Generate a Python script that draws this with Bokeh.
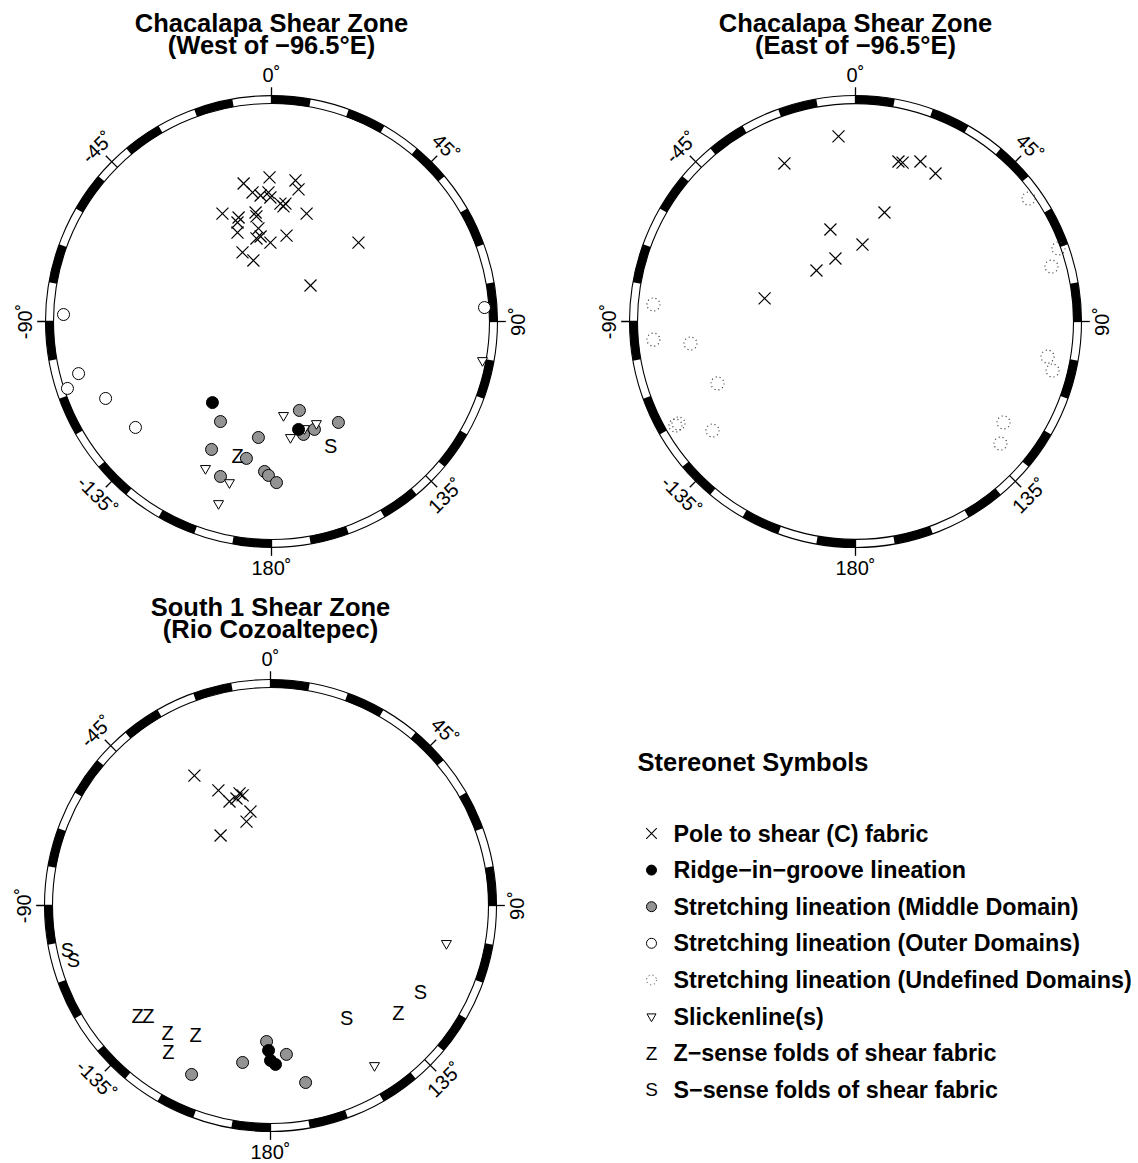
import numpy as np
from bokeh.plotting import figure
from bokeh.models import Range1d
from bokeh.layouts import column, row
from bokeh.embed import file_html
from bokeh.resources import INLINE
from bokeh.core.properties import value

FONT = "Liberation Sans"

# ---------------- data (positions on the net, in units of the net radius: east, north) --------
# Chacalapa Shear Zone, West of -96.5E
west_pole_e = [-0.128, -0.009, 0.110, 0.124, -0.087, -0.050, -0.014, -0.005, 0.041, 0.064, 0.055,
               -0.225, -0.151, -0.156, -0.073, -0.069, 0.161, -0.156, -0.060, -0.050, -0.069, -0.005,
               0.069, -0.133, -0.083, 0.399, 0.179]
west_pole_n = [0.633, 0.661, 0.647, 0.606, 0.592, 0.578, 0.592, 0.569, 0.541, 0.541, 0.528,
               0.495, 0.477, 0.454, 0.500, 0.482, 0.495, 0.408, 0.427, 0.390, 0.381, 0.362,
               0.394, 0.317, 0.280, 0.362, 0.165]
west_ridge_e = [-0.271, 0.124]
west_ridge_n = [-0.372, -0.495]
west_mid_e = [-0.234, 0.128, 0.307, 0.197, 0.147, -0.060, -0.275, -0.115, -0.234, -0.032, -0.014, 0.023]
west_mid_n = [-0.459, -0.408, -0.463, -0.495, -0.518, -0.532, -0.587, -0.628, -0.711, -0.688, -0.706, -0.739]
west_outer_e = [-0.954, -0.885, -0.936, -0.761, -0.624, 0.977]
west_outer_n = [0.032, -0.239, -0.307, -0.353, -0.486, 0.064]
west_slick_e = [0.055, 0.206, 0.151, 0.087, -0.303, -0.193, -0.243, 0.968]
west_slick_n = [-0.431, -0.468, -0.491, -0.532, -0.674, -0.739, -0.835, -0.179]
west_z_e = [-0.156]
west_z_n = [-0.615]
west_s_e = [0.271]
west_s_n = [-0.569]

# Chacalapa Shear Zone, East of -96.5E
east_pole_e = [-0.078, -0.326, 0.197, 0.216, 0.298, 0.367, 0.133, -0.115, 0.032, -0.092, -0.179, -0.417]
east_pole_n = [0.849, 0.725, 0.734, 0.729, 0.734, 0.679, 0.500, 0.422, 0.353, 0.289, 0.234, 0.106]
east_undef_e = [0.794, 0.931, 0.899, -0.927, -0.927, -0.757, -0.633, -0.812, -0.826, -0.656,
                0.881, 0.904, 0.679, 0.665]
east_undef_n = [0.564, 0.335, 0.252, 0.078, -0.083, -0.101, -0.284, -0.468, -0.477, -0.500,
                -0.161, -0.225, -0.463, -0.560]

# South 1 Shear Zone (Rio Cozoaltepec)
south_pole_e = [-0.349, -0.239, -0.188, -0.142, -0.128, -0.156, -0.092, -0.110, -0.229]
south_pole_n = [0.596, 0.528, 0.477, 0.514, 0.505, 0.491, 0.431, 0.385, 0.321]
south_mid_e = [-0.362, -0.128, -0.018, 0.073, 0.161]
south_mid_n = [-0.775, -0.720, -0.624, -0.683, -0.812]
south_ridge_e = [-0.009, 0.000, 0.023]
south_ridge_n = [-0.665, -0.711, -0.729]
south_slick_e = [0.807, 0.477]
south_slick_n = [-0.174, -0.734]
south_z_e = [-0.610, -0.560, -0.472, -0.468, -0.344, 0.587]
south_z_n = [-0.505, -0.505, -0.587, -0.670, -0.596, -0.491]
south_s_e = [-0.931, -0.904, 0.688, 0.349]
south_s_n = [-0.206, -0.252, -0.399, -0.514]

tick_az = [0, 45, 90, 135, 180, -135, -90, -45]
tick_labels = ["0˚", "45˚", "90˚", "135˚", "180˚", "-135˚", "-90˚", "-45˚"]

legend_labels = ["Pole to shear (C) fabric", "Ridge−in−groove lineation",
                 "Stretching lineation (Middle Domain)", "Stretching lineation (Outer Domains)",
                 "Stretching lineation (Undefined Domains)", "Slickenline(s)",
                 "Z−sense folds of shear fabric", "S−sense folds of shear fabric"]

# ---------------- styling ----------------
R_PX = 218.0              # net radius in pixels
R_OUT = 226.0 / R_PX      # outer edge of frame ring
GRAY = "#939393"


def base_fig(w, h, cx, cy):
    s = R_PX
    p = figure(width=w, height=h, output_backend="svg", toolbar_location=None,
               x_range=Range1d(-cx / s, (w - cx) / s), y_range=Range1d(-(h - cy) / s, cy / s),
               x_axis_type=None, y_axis_type=None, min_border=0)
    p.grid.visible = False
    p.outline_line_color = None
    p.background_fill_color = "white"
    p.border_fill_color = "white"
    return p


def net(w, h, cx, cy, t1, t2):
    p = base_fig(w, h, cx, cy)
    seg = np.arange(0, 360, 10)
    blk = seg[(seg // 10) % 2 == 0]
    n = len(blk)
    p.annular_wedge(x=[0] * n, y=[0] * n, inner_radius=1.0, outer_radius=R_OUT,
                    start_angle=list(np.radians(90 - blk - 10)), end_angle=list(np.radians(90 - blk)),
                    fill_color="black", line_color=None)
    p.circle(x=[0, 0], y=[0, 0], radius=[1.0, R_OUT], fill_color=None,
             line_color="black", line_width=1.1)
    az = np.radians(np.array(tick_az, dtype=float))
    p.segment(x0=list(np.sin(az) * 1.0), y0=list(np.cos(az) * 1.0),
              x1=list(np.sin(az) * 1.075), y1=list(np.cos(az) * 1.075),
              line_color="black", line_width=1.3)
    rot = []
    for a in tick_az:
        r = -a
        if r <= -90:
            r += 180
        if r > 90:
            r -= 180
        rot.append(np.radians(r))
    p.text(x=list(np.sin(az) * 1.13), y=list(np.cos(az) * 1.13), text=tick_labels, angle=rot,
           text_align="center", text_baseline="middle", text_font=value(FONT),
           text_font_size="20px", text_color="black")
    p.text(x=[0, 0], y=[299 / R_PX, 277 / R_PX], text=[t1, t2], text_align="center",
           text_baseline="middle", text_font=value(FONT), text_font_style="bold",
           text_font_size="25.5px", text_color="black")
    return p


def poles(p, e, n, size=17):
    p.scatter(x=e, y=n, marker="x", size=size, line_color="black", line_width=1.2)


def dots(p, e, n, fill, size=12):
    p.scatter(x=e, y=n, marker="circle", size=size, fill_color=fill, line_color="black", line_width=1)


def slick(p, e, n, size=10):
    p.scatter(x=e, y=n, marker="inverted_triangle", size=size, fill_color="white",
              line_color="black", line_width=1)


def undef(p, e, n, size=13):
    p.scatter(x=e, y=n, marker="circle", size=size, fill_color=None, line_color="#333333",
              line_width=1.2, line_dash="1 3")


def letters(p, e, n, ch, size="20px"):
    p.text(x=e, y=n, text=[ch] * len(e), text_align="center", text_baseline="middle",
           text_font=value(FONT), text_font_size=size, text_color="black")


# layout geometry (pixels)
W1, W2 = 593, 545
H1, H2 = 593, 570

p1 = net(W1, H1, 271, 321, "Chacalapa Shear Zone", "(West of −96.5°E)")
poles(p1, west_pole_e, west_pole_n)
dots(p1, west_outer_e, west_outer_n, "white")
dots(p1, west_mid_e, west_mid_n, GRAY)
slick(p1, west_slick_e, west_slick_n)
dots(p1, west_ridge_e, west_ridge_n, "black")
letters(p1, west_z_e, west_z_n, "Z")
letters(p1, west_s_e, west_s_n, "S")

p2 = net(W2, H1, 262, 321, "Chacalapa Shear Zone", "(East of −96.5°E)")
poles(p2, east_pole_e, east_pole_n)
undef(p2, east_undef_e, east_undef_n)

p3 = net(W1, H2, 270, 312, "South 1 Shear Zone", "(Rio Cozoaltepec)")
poles(p3, south_pole_e, south_pole_n)
dots(p3, south_mid_e, south_mid_n, GRAY)
dots(p3, south_ridge_e, south_ridge_n, "black")
slick(p3, south_slick_e, south_slick_n)
letters(p3, south_z_e, south_z_n, "Z")
letters(p3, south_s_e, south_s_n, "S")

# legend panel (pixel coordinates, y downwards)
lg = figure(width=W2, height=H2, output_backend="svg", toolbar_location=None,
            x_range=Range1d(0, W2), y_range=Range1d(H2, 0),
            x_axis_type=None, y_axis_type=None, min_border=0)
lg.grid.visible = False
lg.outline_line_color = None
lg.text(x=[44], y=[168], text=["Stereonet Symbols"], text_baseline="middle",
        text_font=value(FONT), text_font_style="bold", text_font_size="25.5px", text_color="black")
ys = [240 + i * 36.6 for i in range(len(legend_labels))]
sx = 58
lg.scatter(x=[sx], y=[ys[0]], marker="x", size=15, line_color="black", line_width=1.1)
lg.scatter(x=[sx], y=[ys[1]], marker="circle", size=10, fill_color="black", line_color="black")
lg.scatter(x=[sx], y=[ys[2]], marker="circle", size=10, fill_color=GRAY, line_color="black")
lg.scatter(x=[sx], y=[ys[3]], marker="circle", size=10, fill_color="white", line_color="black")
lg.scatter(x=[sx], y=[ys[4]], marker="circle", size=10, fill_color=None, line_color="#333333",
           line_dash="1 3")
lg.scatter(x=[sx], y=[ys[5]], marker="inverted_triangle", size=9, fill_color="white", line_color="black")
lg.text(x=[sx, sx], y=[ys[6], ys[7]], text=["Z", "S"], text_align="center", text_baseline="middle",
        text_font=value(FONT), text_font_size="19px", text_color="black")
lg.text(x=[80] * len(legend_labels), y=ys, text=legend_labels,
        text_baseline="middle", text_font=value(FONT), text_font_style="bold",
        text_font_size="23.3px", text_color="black")

layout = column(row(p1, p2), row(p3, lg))
open("out.html", "w").write(file_html(layout, INLINE))
